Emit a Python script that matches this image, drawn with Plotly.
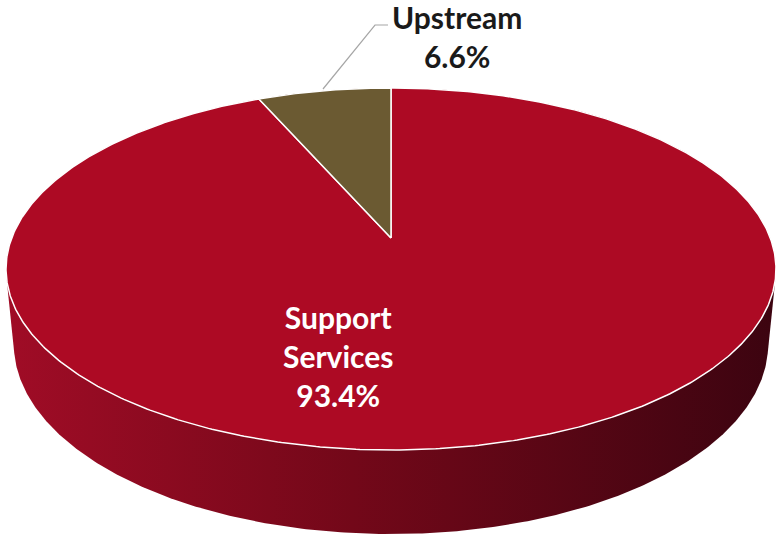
import numpy as np
import plotly.graph_objects as go

# Pie data
labels = ["Support Services", "Upstream"]
shares = [93.4, 6.6]
top_colors = ["#AD0A24", "#6B5A32"]
text_colors = ["white", "#1A1A1A"]

# Perspective view of a flat cylinder (unit radius, thickness H)
W, HGT = 778, 537
ALPHA = np.radians(27.6)
S, C = np.sin(ALPHA), np.cos(ALPHA)
DIST = 5.178
K = 1964.0
H = 0.225
CX, CY = 391.0, 238.0


def project(theta, y):
    """theta measured clockwise from the back (12 o'clock), y = height."""
    theta = np.asarray(theta, dtype=float)
    X = np.sin(theta)
    Z = np.cos(theta)
    depth = DIST - y * S + Z * C
    u = X / depth
    w = (y * C + Z * S) / depth
    return CX + K * u, CY - K * w


def apex(y):
    depth = DIST - y * S
    return CX, CY - K * (y * C) / depth


def convex_hull(pts):
    pts = sorted(set(map(tuple, np.round(pts, 4))))
    def cross(o, a, b):
        return (a[0] - o[0]) * (b[1] - o[1]) - (a[1] - o[1]) * (b[0] - o[0])
    lower, upper = [], []
    for p in pts:
        while len(lower) >= 2 and cross(lower[-2], lower[-1], p) <= 0:
            lower.pop()
        lower.append(p)
    for p in reversed(pts):
        while len(upper) >= 2 and cross(upper[-2], upper[-1], p) <= 0:
            upper.pop()
        upper.append(p)
    hull = lower[:-1] + upper[:-1]
    hull.append(hull[0])
    return np.array(hull)


fig = go.Figure()

# Side wall: hull of the top and bottom rims
full = np.linspace(0, 2 * np.pi, 721)
tx, ty = project(full, 0.0)
bx, by = project(full, -H)
hull = convex_hull(np.column_stack([np.concatenate([tx, bx]), np.concatenate([ty, by])]))
fig.add_trace(go.Scatter(
    x=hull[:, 0], y=hull[:, 1], mode="lines", fill="toself",
    line=dict(width=0), hoverinfo="skip", showlegend=False,
    fillgradient=dict(type="horizontal",
                      colorscale=[[0, "#A00C26"], [0.45, "#730819"], [1, "#3C0410"]]),
))

# Top-face slices, clockwise from 12 o'clock
total = sum(shares)
start = 0.0
ax0, ay0 = apex(0.0)
for lab, val, col in zip(labels, shares, top_colors):
    sweep = 2 * np.pi * val / total
    th = np.linspace(start, start + sweep, max(int(sweep / np.radians(0.5)), 8))
    px, py = project(th, 0.0)
    xs = np.concatenate([[ax0], px, [ax0]])
    ys = np.concatenate([[ay0], py, [ay0]])
    fig.add_trace(go.Scatter(
        x=xs, y=ys, mode="lines", fill="toself", fillcolor=col,
        line=dict(color="white", width=1.5), name=lab,
        hoverinfo="name", showlegend=False,
    ))
    start += sweep

# Leader line for the small slice
fig.add_trace(go.Scatter(
    x=[323, 375, 388], y=[89, 25, 25], mode="lines",
    line=dict(color="#A6A6A6", width=1.2), hoverinfo="skip", showlegend=False,
))

font = "Lato, 'Open Sans', sans-serif"
fig.add_annotation(x=338, y=356, text="<b>Support<br>Services<br>93.4%</b>",
                   showarrow=False, font=dict(family=font, size=30, color=text_colors[0]),
                   align="center")
fig.add_annotation(x=457, y=36, text="<b>Upstream<br>6.6%</b>",
                   showarrow=False, font=dict(family=font, size=30, color=text_colors[1]),
                   align="center")

fig.update_layout(
    width=W, height=HGT,
    margin=dict(l=0, r=0, t=0, b=0),
    paper_bgcolor="white", plot_bgcolor="white",
    xaxis=dict(range=[0, W], visible=False, fixedrange=True),
    yaxis=dict(range=[HGT, 0], visible=False, fixedrange=True),
)

fig.write_html("out.html")
